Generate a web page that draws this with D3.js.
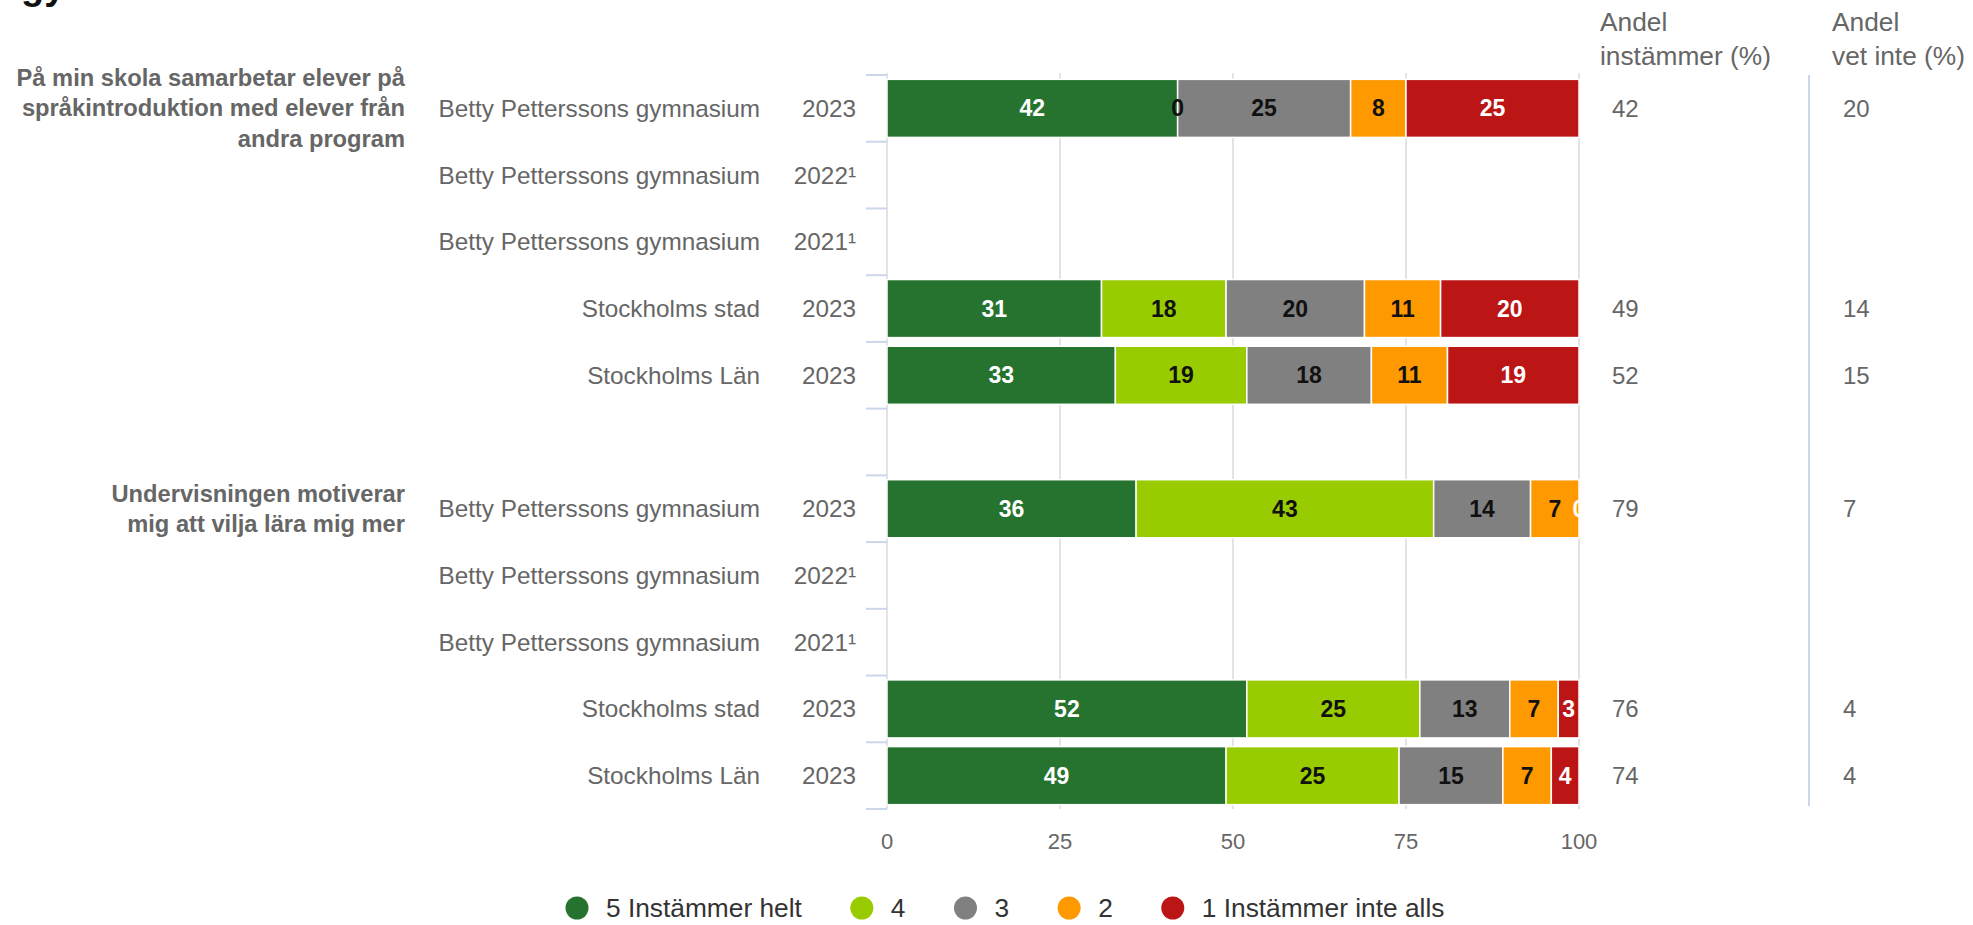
<!DOCTYPE html>
<html>
<head>
<meta charset="utf-8">
<script src="https://cdn.jsdelivr.net/npm/d3@7"></script>
<style>
  html, body { margin: 0; padding: 0; background: #fff; }
  svg { display: block; font-family: "Liberation Sans", Arial, sans-serif; }
</style>
</head>
<body>
<svg id="chart" width="1973" height="925"></svg>
<script>
// ---- data ----
const rowNames = [
  "Betty Petterssons gymnasium", "Betty Petterssons gymnasium", "Betty Petterssons gymnasium",
  "Stockholms stad", "Stockholms Län", "",
  "Betty Petterssons gymnasium", "Betty Petterssons gymnasium", "Betty Petterssons gymnasium",
  "Stockholms stad", "Stockholms Län"
];
const rowYears = ["2023", "2022¹", "2021¹", "2023", "2023", "", "2023", "2022¹", "2021¹", "2023", "2023"];
const groupLabel1 = ["På min skola samarbetar elever på", "språkintroduktion med elever från", "andra program"];
const groupLabel2 = ["Undervisningen motiverar", "mig att vilja lära mig mer"];
const groupRows = [0, 6];

const seriesNames = ["5 Instämmer helt", "4", "3", "2", "1 Instämmer inte alls"];
const s5 = [42, null, null, 31, 33, null, 36, null, null, 52, 49];
const s4 = [0, null, null, 18, 19, null, 43, null, null, 25, 25];
const s3 = [25, null, null, 20, 18, null, 14, null, null, 13, 15];
const s2 = [8, null, null, 11, 11, null, 7, null, null, 7, 7];
const s1 = [25, null, null, 20, 19, null, 0, null, null, 3, 4];
const andelInstammer = [42, null, null, 49, 52, null, 79, null, null, 76, 74];
const andelVetInte = [20, null, null, 14, 15, null, 7, null, null, 4, 4];
const xTicks = [0, 25, 50, 75, 100];
const colHeader1 = ["Andel", "instämmer (%)"];
const colHeader2 = ["Andel", "vet inte (%)"];
const titleFragment = "gymnasium";

// ---- styling ----
const colors = ["#25732f", "#99cc00", "#808080", "#ff9900", "#bb1515"];
const labelColors = ["#ffffff", "#111111", "#111111", "#111111", "#ffffff"];
const textGray = "#666666";

const svg = d3.select("#chart");
const plot = { left: 887, right: 1579, top: 75, bottom: 809 };

const x = d3.scaleLinear().domain([0, 100]).range([plot.left, plot.right]);
const rowIdx = d3.range(rowNames.length);
const y = d3.scaleBand().domain(rowIdx).range([plot.top, plot.bottom]).paddingInner(0.13).paddingOuter(0.065);
const step = y.step();
const slotTop = i => y(i) - step * 0.065;
const rowCenter = i => y(i) + y.bandwidth() / 2;

// title fragment (cut off at the top edge, as in the reference: only descenders visible)
svg.append("text").attr("x", 21).attr("y", -1)
  .attr("font-size", 38).attr("font-weight", "bold").attr("fill", "#111")
  .text(titleFragment);

// gridlines
svg.append("g").selectAll("line").data(xTicks).join("line")
  .attr("x1", d => x(d)).attr("x2", d => x(d))
  .attr("y1", plot.top - 2).attr("y2", plot.bottom)
  .attr("stroke", "#e3e3e3").attr("stroke-width", 2);

// left axis ticks
const tickPos = rowIdx.map(i => slotTop(i)).concat([plot.bottom]);
svg.append("g").selectAll("line").data(tickPos).join("line")
  .attr("x1", plot.left - 21).attr("x2", plot.left)
  .attr("y1", d => d).attr("y2", d => d)
  .attr("stroke", "#ccd6eb").attr("stroke-width", 2);

// stacked bars
const allSeries = [s5, s4, s3, s2, s1];
svg.append("clipPath").attr("id", "plotclip")
  .append("rect").attr("x", plot.left).attr("y", plot.top - 10)
  .attr("width", plot.right - plot.left + 1).attr("height", plot.bottom - plot.top + 20);

const barsG = svg.append("g");
const labelsG = svg.append("g").attr("clip-path", "url(#plotclip)");
rowIdx.forEach(i => {
  let cum = 0;
  allSeries.forEach((s, k) => {
    const v = s[i];
    if (v === null) return;
    const x0 = x(cum), x1 = x(cum + v);
    if (v > 0) {
      barsG.append("rect")
        .attr("x", x0).attr("y", y(i))
        .attr("width", x1 - x0).attr("height", y.bandwidth())
        .attr("fill", colors[k]).attr("stroke", "#fff").attr("stroke-width", 1.5);
    }
    cum += v;
  });
});
rowIdx.forEach(i => {
  let cum = 0;
  allSeries.forEach((s, k) => {
    const v = s[i];
    if (v === null) return;
    labelsG.append("text")
      .attr("x", (x(cum) + x(cum + v)) / 2).attr("y", rowCenter(i))
      .attr("text-anchor", "middle").attr("dominant-baseline", "central")
      .attr("font-size", 23).attr("font-weight", "bold")
      .attr("fill", labelColors[k]).text(v);
    cum += v;
  });
});

// category labels
const catG = svg.append("g").attr("font-size", 24.3).attr("fill", textGray);
rowIdx.forEach(i => {
  catG.append("text").attr("x", 760).attr("y", rowCenter(i))
    .attr("text-anchor", "end").attr("dominant-baseline", "central").text(rowNames[i]);
  catG.append("text").attr("x", 856).attr("y", rowCenter(i))
    .attr("text-anchor", "end").attr("dominant-baseline", "central").text(rowYears[i]);
});

// group labels
[groupLabel1, groupLabel2].forEach((lines, g) => {
  const cy = rowCenter(groupRows[g]);
  const lh = 30.3;
  lines.forEach((t, j) => {
    svg.append("text").attr("x", 405)
      .attr("y", cy + (j - (lines.length - 1) / 2) * lh)
      .attr("text-anchor", "end").attr("dominant-baseline", "central")
      .attr("font-size", 23.7).attr("font-weight", "bold").attr("fill", textGray)
      .text(t);
  });
});

// x axis labels
svg.append("g").selectAll("text").data(xTicks).join("text")
  .attr("x", d => x(d)).attr("y", 841)
  .attr("text-anchor", "middle").attr("dominant-baseline", "central")
  .attr("font-size", 22).attr("fill", textGray).text(d => d);

// right columns
const col1x = 1600, col2x = 1832;
[[colHeader1, col1x], [colHeader2, col2x]].forEach(([lines, cx]) => {
  lines.forEach((t, j) => {
    svg.append("text").attr("x", cx).attr("y", 22 + j * 34)
      .attr("dominant-baseline", "central")
      .attr("font-size", 26.3).attr("fill", textGray).text(t);
  });
});
svg.append("line").attr("x1", 1809).attr("x2", 1809)
  .attr("y1", plot.top).attr("y2", plot.bottom - 3)
  .attr("stroke", "#ccd6eb").attr("stroke-width", 2);
rowIdx.forEach(i => {
  if (andelInstammer[i] !== null)
    svg.append("text").attr("x", 1612).attr("y", rowCenter(i))
      .attr("dominant-baseline", "central").attr("font-size", 24).attr("fill", textGray)
      .text(andelInstammer[i]);
  if (andelVetInte[i] !== null)
    svg.append("text").attr("x", 1843).attr("y", rowCenter(i))
      .attr("dominant-baseline", "central").attr("font-size", 24).attr("fill", textGray)
      .text(andelVetInte[i]);
});

// legend
const legend = svg.append("g");
let lx = 577;
seriesNames.forEach((n, k) => {
  legend.append("circle").attr("cx", lx).attr("cy", 908).attr("r", 11.5).attr("fill", colors[k]);
  const t = legend.append("text").attr("x", lx + 29).attr("y", 908)
    .attr("dominant-baseline", "central").attr("font-size", 26.3).attr("fill", "#333")
    .text(n);
  lx = lx + 29 + t.node().getComputedTextLength() + 60;
});
</script>
</body>
</html>
